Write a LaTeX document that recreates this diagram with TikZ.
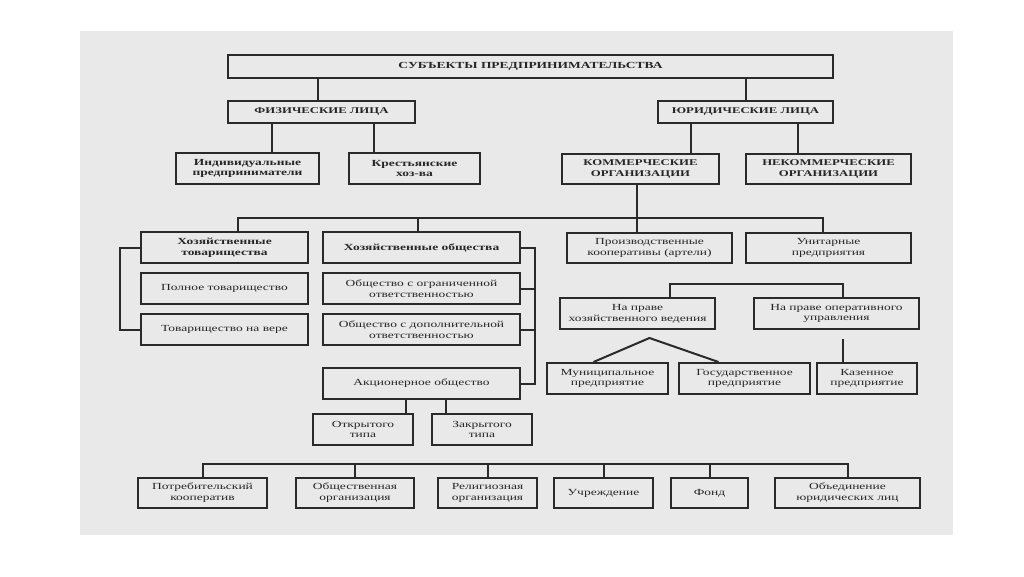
\documentclass[tikz,border=0pt]{standalone}
\usepackage{fontspec}
\setmainfont{Liberation Serif}[FakeStretch=1.45]
\usepackage{xcolor}
\usepackage{tikz}
\usetikzlibrary{positioning,calc}
\definecolor{cScan}{HTML}{E9E9E9}
\definecolor{cLine}{HTML}{2A2A2A}
\definecolor{cText}{HTML}{262626}
\tikzset{
  x=1pt, y=1pt,
  node distance=8pt and 13pt,
  box/.style  ={rectangle, draw=cLine, line width=2pt, align=center,
                text=cText, font=\fontsize{9.3}{10.8}\selectfont, inner sep=2pt,
                minimum height=31pt},
  bbox/.style ={box, font=\fontsize{9.3}{10.8}\selectfont\bfseries},
  hbox/.style ={box, font=\fontsize{8.8}{11}\selectfont\bfseries},
  ln/.style   ={draw=cLine, line width=2pt},
}
\begin{document}
\begin{tikzpicture}
  \useasboundingbox (0,0) rectangle (1024,-576);
  \fill[cScan] (80,-31) rectangle (953,-535);
  % top of the tree
  \node[hbox,minimum width=605pt,minimum height=23pt,font=\fontsize{9.3}{11}\selectfont\bfseries] (subj) at (530.5,-66.5) {СУБЪЕКТЫ ПРЕДПРИНИМАТЕЛЬСТВА};
  \node[hbox,minimum width=187pt,minimum height=22pt] (fiz) at (321.5,-112) {ФИЗИЧЕСКИЕ ЛИЦА};
  \node[hbox,minimum width=175pt,minimum height=22pt] (yur) at (745.5,-112) {ЮРИДИЧЕСКИЕ ЛИЦА};
  \node[bbox,minimum width=143pt] (ind) at (247.5,-168.5) {Индивидуальные\\предприниматели};
  \node[bbox,minimum width=131pt,right=28pt of ind] (kres) {Крестьянские\\хоз-ва};
  \node[hbox,minimum width=157pt,minimum height=30pt] (kom) at (640.5,-169) {КОММЕРЧЕСКИЕ\\ОРГАНИЗАЦИИ};
  \node[hbox,minimum width=165pt,minimum height=30pt,right=25pt of kom] (nekom) {НЕКОММЕРЧЕСКИЕ\\ОРГАНИЗАЦИИ};
  % left block
  \node[bbox,minimum width=167pt] (htov) at (224.5,-247.5) {Хозяйственные\\товарищества};
  \node[bbox,minimum width=197pt,right=13pt of htov] (hobsh) {Хозяйственные общества};
  \node[box,minimum width=167pt,below=of htov] (poln) {Полное товарищество};
  \node[box,minimum width=167pt,below=of poln] (tnv) {Товарищество на вере};
  \node[box,minimum width=197pt,below=of hobsh] (ooo) {Общество с ограниченной\\ответственностью};
  \node[box,minimum width=197pt,below=of ooo] (odo) {Общество с дополнительной\\ответственностью};
  \node[box,minimum width=197pt,below=21pt of odo] (ao) {Акционерное общество};
  \node[box,minimum width=100pt] (otkr) at (363,-429.5) {Открытого\\типа};
  \node[box,minimum width=100pt,right=17pt of otkr] (zakr) {Закрытого\\типа};
  % right block
  \node[box,minimum width=165pt,minimum height=30pt] (proizv) at (649.5,-248) {Производственные\\кооперативы (артели)};
  \node[box,minimum width=165pt,minimum height=30pt,right=12pt of proizv] (unitar) {Унитарные\\предприятия};
  \node[box,minimum width=155pt] (hozved) at (637.5,-313.5) {На праве\\хозяйственного ведения};
  \node[box,minimum width=165pt,right=37pt of hozved] (oper) {На праве оперативного\\управления};
  \node[box,minimum width=121pt] (mun) at (607.5,-378.5) {Муниципальное\\предприятие};
  \node[box,minimum width=131pt,right=9pt of mun] (gos) {Государственное\\предприятие};
  \node[box,minimum width=100pt,right=5pt of gos] (kaz) {Казенное\\предприятие};
  % bottom row
  \node[box,minimum width=129pt,minimum height=30pt] (potr) at (202.5,-493) {Потребительский\\кооператив};
  \node[box,minimum width=118pt,minimum height=30pt,right=27pt of potr] (obsh) {Общественная\\организация};
  \node[box,minimum width=99pt,minimum height=30pt,right=22pt of obsh] (relig) {Религиозная\\организация};
  \node[box,minimum width=99pt,minimum height=30pt,right=15pt of relig] (uchr) {Учреждение};
  \node[box,minimum width=77pt,minimum height=30pt,right=16pt of uchr] (fond) {Фонд};
  \node[box,minimum width=145pt,minimum height=30pt,right=25pt of fond] (obed) {Объединение\\юридических лиц};
  % connectors
  \draw[ln] ([xshift=-4pt]fiz.north) -- ([xshift=-4pt]fiz.north |- subj.south);
  \draw[ln] (yur.north) -- (yur.north |- subj.south);
  \draw[ln] ([xshift=-50pt]fiz.south) -- ([xshift=-50pt]fiz.south |- ind.north);
  \draw[ln] ([xshift=52pt]fiz.south) -- ([xshift=52pt]fiz.south |- kres.north);
  \draw[ln] ([xshift=-55pt]yur.south) -- ([xshift=-55pt]yur.south |- kom.north);
  \draw[ln] ([xshift=52pt]yur.south) -- ([xshift=52pt]yur.south |- nekom.north);
  \draw[ln] ([xshift=-3.5pt]kom.south) -- ([xshift=-3.5pt]kom.south |- proizv.north);
  \draw[ln] ([xshift=13pt]htov.north) -- ++(0,13) -| ([xshift=-6pt]unitar.north);
  \draw[ln] ([xshift=-4pt]hobsh.north) -- ++(0,13);
  \draw[ln] (htov.west) -- ++(-20,0) |- (tnv.west);
  \draw[ln] (hobsh.east) -- ++(14,0) coordinate (hb) |- (ao.east);
  \draw[ln] (ooo.east) -- (ooo.east -| hb);
  \draw[ln] (odo.east) -- (odo.east -| hb);
  \draw[ln] ([xshift=-16pt]ao.south) -- ([xshift=-16pt]ao.south |- otkr.north);
  \draw[ln] ([xshift=24pt]ao.south) -- ([xshift=24pt]ao.south |- zakr.north);
  \draw[ln] ([xshift=32pt]hozved.north) -- ++(0,13) -| ([xshift=6pt]oper.north);
  \draw[ln] ([xshift=-14pt]mun.north) -- ([xshift=12pt,yshift=-8pt]hozved.south) -- ([xshift=-26pt]gos.north);
  \draw[ln] ([xshift=6pt,yshift=-9pt]oper.south) -- ([xshift=6pt]oper.south |- kaz.north);
  \draw[ln] (potr.north) -- ++(0,13) -| (obed.north);
  \foreach \n in {obsh,relig,uchr,fond} \draw[ln] (\n.north) -- ++(0,13);
\end{tikzpicture}
\end{document}
